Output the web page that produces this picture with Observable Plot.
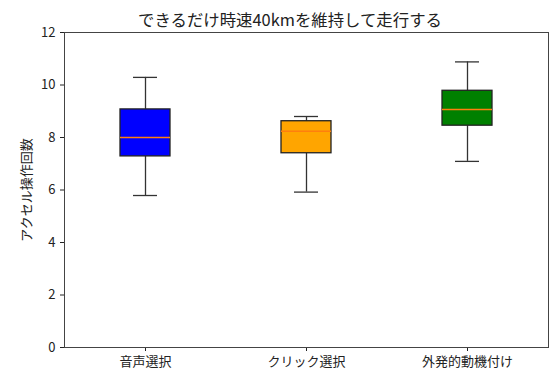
<!DOCTYPE html>
<html>
<head>
<meta charset="utf-8">
<script src="https://cdn.jsdelivr.net/npm/d3@7"></script>
<script src="https://cdn.jsdelivr.net/npm/@observablehq/plot@0.6"></script>
<style>
  body { margin: 0; background: #fff; }
  #wrap { position: relative; width: 552px; height: 374px; font-family: "Noto Sans CJK JP", sans-serif; }
  #title { position: absolute; top: 7px; left: 0; width: 580px; text-align: center; font-size: 16.4px; color: #222; white-space: nowrap; }
</style>
</head>
<body>
<div id="wrap"><div id="title">できるだけ時速40kmを維持して走行する</div></div>
<script>
const categories = ["音声選択", "クリック選択", "外発的動機付け"];
const whiskerLow = [5.79, 5.92, 7.09];
const q1 = [7.28, 7.40, 8.45];
const median = [8.0, 8.24, 9.07];
const q3 = [9.07, 8.62, 9.78];
const whiskerHigh = [10.29, 8.8, 10.88];
const fills = ["blue", "orange", "green"];
const yTicks = [0, 2, 4, 6, 8, 10, 12];

const data = categories.map((c, i) => ({
  cat: c, lo: whiskerLow[i], q1: q1[i], med: median[i], q3: q3[i], hi: whiskerHigh[i], fill: fills[i]
}));

const chart = Plot.plot({
  width: 552,
  height: 374,
  marginLeft: 64,
  marginRight: 4,
  marginTop: 32,
  marginBottom: 27,
  style: { fontFamily: "Noto Sans CJK JP, sans-serif", fontSize: "13px", color: "#222", background: "transparent" },
  x: { domain: categories, paddingInner: 0.69, paddingOuter: 0.345, label: null, tickSize: 4 },
  y: { domain: [0, 12], ticks: yTicks, tickSize: 4, label: "アクセル操作回数", labelAnchor: "center", labelArrow: "none", labelOffset: 43 },
  marks: [
    Plot.ruleX(data, { x: "cat", y1: "lo", y2: "q1", stroke: "#333", strokeWidth: 1.3 }),
    Plot.ruleX(data, { x: "cat", y1: "q3", y2: "hi", stroke: "#333", strokeWidth: 1.3 }),
    Plot.barY(data, { x: "cat", y1: "q1", y2: "q3", fill: "fill", stroke: "#222", strokeWidth: 1.3 }),
    Plot.tickY(data, { x: "cat", y: "med", stroke: "#ff7f0e", strokeWidth: 1.5 }),
    Plot.tickY(data, { x: "cat", y: "lo", stroke: "#333", strokeWidth: 1.3, insetLeft: 13, insetRight: 13 }),
    Plot.tickY(data, { x: "cat", y: "hi", stroke: "#333", strokeWidth: 1.3, insetLeft: 13, insetRight: 13 }),
    Plot.frame({ stroke: "#444", strokeWidth: 1 })
  ]
});
document.getElementById("wrap").prepend(chart);
</script>
</body>
</html>
